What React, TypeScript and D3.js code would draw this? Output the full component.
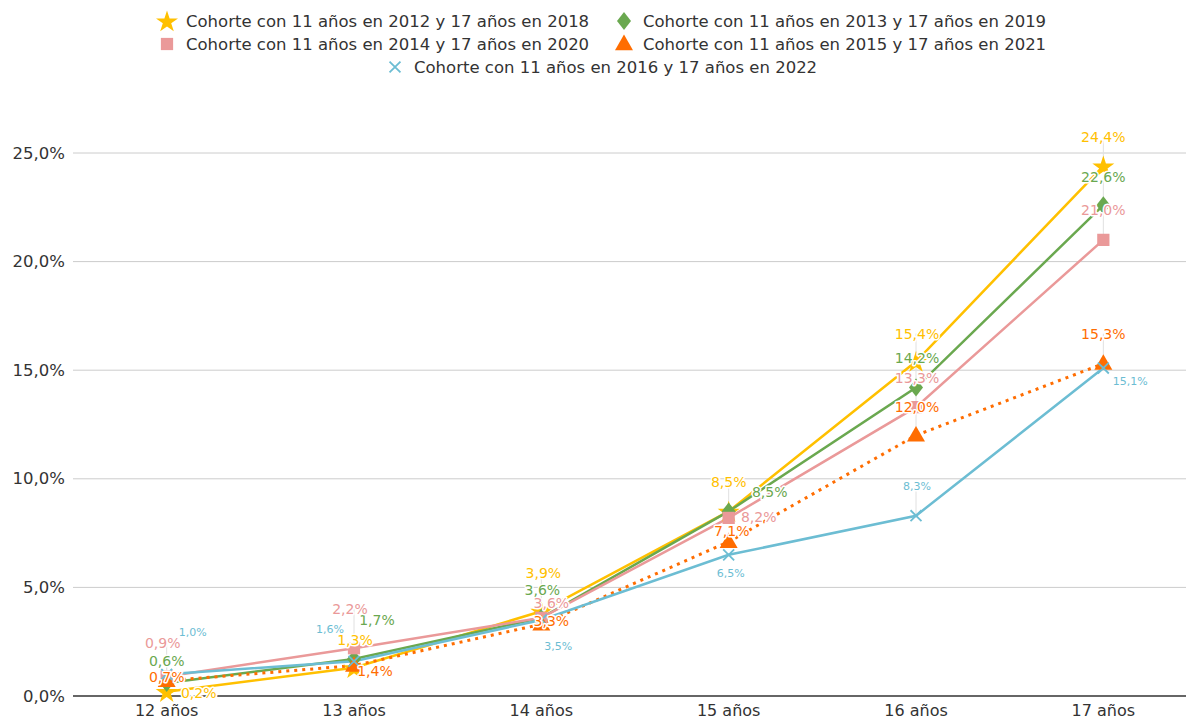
import React from "react";
import * as d3 from "d3";

const categories = ["12 años", "13 años", "14 años", "15 años", "16 años", "17 años"];
const seriesNames = [
  "Cohorte con 11 años en 2012 y 17 años en 2018",
  "Cohorte con 11 años en 2013 y 17 años en 2019",
  "Cohorte con 11 años en 2014 y 17 años en 2020",
  "Cohorte con 11 años en 2015 y 17 años en 2021",
  "Cohorte con 11 años en 2016 y 17 años en 2022",
];
const cohort2012 = [0.2, 1.3, 3.9, 8.5, 15.4, 24.4];
const cohort2013 = [0.6, 1.7, 3.6, 8.5, 14.2, 22.6];
const cohort2014 = [0.9, 2.2, 3.6, 8.2, 13.3, 21.0];
const cohort2015 = [0.7, 1.4, 3.3, 7.1, 12.0, 15.3];
const cohort2016 = [1.0, 1.6, 3.5, 6.5, 8.3, 15.1];
const yTicks = [0, 5, 10, 15, 20, 25];

const seriesValues = [cohort2012, cohort2013, cohort2014, cohort2015, cohort2016];

// styles
const colors = ["#FFC000", "#6AA84F", "#EA9999", "#FF6D01", "#6CBDD3"];
const markerKinds = ["star", "diamond", "square", "triangle", "x"];
const dashed = [false, false, false, true, false];
const labelSizes = [14, 14, 14, 14, 11];

// label offsets (dx, dy) in pixels relative to each point, per series
const labelOffsets: [number, number][][] = [
  [[32, 1], [1, -28], [2, -38], [0, -29], [1, -28], [0, -29]],
  [[0, -22], [23, -39], [1, -28], [41, -19], [1, -30], [0, -28]],
  [[-4, -33], [-4, -39], [10, -15], [30, -1], [1, -29], [0, -30]],
  [[0, -4], [21, 5], [10, -3], [3, -11], [1, -28], [0, -30]],
  [[26, -42], [-24, -32], [17, 27], [2, 19], [1, -29], [27, 13]],
];

const W = 1186;
const H = 720;
const plotLeft = 73;
const plotRight = 1197;
const yBottom = 696;
const yTop = 153;
const font = "'DejaVu Sans', Verdana, sans-serif";

function fmt(v: number) {
  return v.toFixed(1).replace(".", ",") + "%";
}

function Marker({ kind, x, y, color }: { kind: string; x: number; y: number; color: string }) {
  if (kind === "star") {
    const p = d3.symbol().type(d3.symbolStar).size(150)();
    return <path d={p || ""} transform={`translate(${x},${y + 1})`} fill={color} />;
  }
  if (kind === "diamond") {
    const p = `M0,-9L7,0L0,9L-7,0Z`;
    return <path d={p} transform={`translate(${x},${y})`} fill={color} />;
  }
  if (kind === "square") {
    const p = d3.symbol().type(d3.symbolSquare).size(150)();
    return <path d={p || ""} transform={`translate(${x},${y})`} fill={color} />;
  }
  if (kind === "triangle") {
    const p = d3.symbol().type(d3.symbolTriangle).size(140)();
    return <path d={p || ""} transform={`translate(${x},${y + 1})`} fill={color} />;
  }
  const p = d3.symbol().type(d3.symbolX).size(80)();
  return <path d={p || ""} transform={`translate(${x},${y})`} fill="none" stroke={color} strokeWidth={1.8} />;
}

export default function App() {
  const x = d3.scaleBand<string>().domain(categories).range([plotLeft, plotRight]).padding(0);
  const cx = (c: string) => (x(c) as number) + x.bandwidth() / 2;
  const y = d3.scaleLinear().domain([0, 25]).range([yBottom, yTop]);
  const line = d3
    .line<number>()
    .x((_, i) => cx(categories[i]))
    .y((d) => y(d));

  const legendItems = [
    { i: 0, mx: 167, my: 21 },
    { i: 1, mx: 624, my: 21 },
    { i: 2, mx: 167, my: 44 },
    { i: 3, mx: 624, my: 44 },
    { i: 4, mx: 395, my: 67 },
  ];

  return (
    <svg width={W} height={H} style={{ position: "absolute", left: 0, top: 0, background: "#fff" }} fontFamily={font}>
      <rect x={0} y={0} width={W} height={H} fill="#fff" />
      {/* legend */}
      {legendItems.map(({ i, mx, my }) => (
        <g key={i}>
          <Marker kind={markerKinds[i]} x={mx} y={my} color={colors[i]} />
          <text x={mx + 19} y={my} dominantBaseline="central" fontSize={16.5} fill="#333">
            {seriesNames[i]}
          </text>
        </g>
      ))}
      {/* grid */}
      {yTicks.map((t) => (
        <g key={t}>
          {t !== 0 && <line x1={plotLeft} x2={W} y1={y(t)} y2={y(t)} stroke="#cccccc" strokeWidth={1} />}
          <text x={65} y={y(t)} textAnchor="end" dominantBaseline="central" fontSize={16.5} fill="#333">
            {fmt(t)}
          </text>
        </g>
      ))}
      <line x1={plotLeft} x2={W} y1={y(0)} y2={y(0)} stroke="#666" strokeWidth={2} />
      {categories.map((c) => (
        <text key={c} x={cx(c)} y={710} textAnchor="middle" dominantBaseline="central" fontSize={16} fill="#333">
          {c}
        </text>
      ))}
      {/* leader lines */}
      {seriesValues.map((vals, s) =>
        vals.map((v, i) => {
          const [dx, dy] = labelOffsets[s][i];
          if (Math.abs(dx) > 5 || Math.abs(dy) < 20) return null;
          const px = cx(categories[i]);
          const py = y(v);
          return (
            <line key={`l${s}-${i}`} x1={px} y1={py + dy} x2={px} y2={py} stroke="#e0e0e0" strokeWidth={1} />
          );
        })
      )}
      {/* lines */}
      {seriesValues.map((vals, s) => (
        <path
          key={`p${s}`}
          d={line(vals) || ""}
          fill="none"
          stroke={colors[s]}
          strokeWidth={dashed[s] ? 3 : 2.5}
          strokeDasharray={dashed[s] ? "3,5" : undefined}
        />
      ))}
      {/* markers */}
      {seriesValues.map((vals, s) =>
        vals.map((v, i) => (
          <Marker key={`m${s}-${i}`} kind={markerKinds[s]} x={cx(categories[i])} y={y(v)} color={colors[s]} />
        ))
      )}
      {/* labels */}
      {seriesValues.map((vals, s) =>
        vals.map((v, i) => {
          const [dx, dy] = labelOffsets[s][i];
          return (
            <text
              key={`t${s}-${i}`}
              x={cx(categories[i]) + dx}
              y={y(v) + dy}
              textAnchor="middle"
              dominantBaseline="central"
              fontSize={labelSizes[s]}
              fill={colors[s]}
              stroke="#fff"
              strokeWidth={3}
              strokeLinejoin="round"
              paintOrder="stroke"
            >
              {fmt(v)}
            </text>
          );
        })
      )}
    </svg>
  );
}
